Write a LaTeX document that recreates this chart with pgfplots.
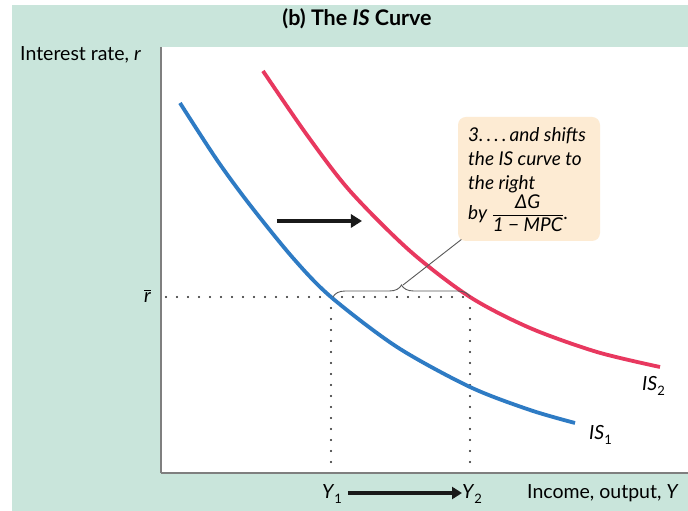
\documentclass[border=0pt]{standalone}
\usepackage{fontspec}
\setmainfont{Lato}
\usepackage{pgfplots}
\pgfplotsset{compat=1.18}
\usetikzlibrary{arrows.meta,decorations.pathreplacing}
\definecolor{mint}{HTML}{C9E5DB}
\definecolor{isblue}{HTML}{2E7BC4}
\definecolor{isred}{HTML}{E8385F}
\definecolor{peach}{HTML}{FDEBD3}
\definecolor{axgray}{HTML}{7F7F7F}
\newcommand{\lab}{\fontsize{19.5}{22}\selectfont}
\newcommand{\sub}[1]{\raisebox{-0.45ex}{\fontsize{13}{13}\selectfont #1}}
\begin{document}
\begin{tikzpicture}
% page: pixel (px,py) -> tikz (px-161, 473-py)
\useasboundingbox (-161pt,-38pt) rectangle (527pt,473pt);
\fill[white] (-161pt,-38pt) rectangle (527pt,473pt);
\fill[mint] (-149pt,-38pt) rectangle (527pt,468pt);
\begin{axis}[
  scale only axis,
  width=527pt, height=426pt,
  xmin=161, xmax=688, ymin=38, ymax=464,
  axis lines=left,
  axis line style={-, draw=axgray, line width=1.4pt},
  axis background/.style={fill=white},
  xtick=\empty, ytick=\empty,
  clip=false,
]
% dotted guides
\addplot[black!85, line width=2.3pt, line cap=round, dash pattern=on 0pt off 11pt]
  coordinates {(166,214) (470,214)};
\addplot[black!85, line width=2.3pt, line cap=round, dash pattern=on 0pt off 11pt]
  coordinates {(331,214) (331,40)};
\addplot[black!85, line width=2.3pt, line cap=round, dash pattern=on 0pt off 11pt]
  coordinates {(470,214) (470,40)};
% IS curves
\addplot[isblue, line width=3.8pt, smooth] coordinates {
  (180,408) (217,351) (250,306) (293,253) (331,214) (397,164) (470,124) (530,101) (575,88)};
\addplot[isred, line width=3.8pt, smooth] coordinates {
  (263,440) (307,376) (350,320) (410,260) (470,214) (530,183) (597,159) (660,144)};
% brace and leader
\draw[decorate, decoration={brace, amplitude=12pt}, black!65, line width=0.9pt]
  (axis cs:333,214) -- (axis cs:470,214);
\draw[black!65, line width=0.9pt] (axis cs:403,226) -- (axis cs:462,272);
% annotation box
\fill[peach, rounded corners=8pt] (axis cs:458,394) rectangle (axis cs:600,270);
\begin{scope}[every node/.style={anchor=base west, inner sep=0pt, font=\itshape\fontsize{19}{22}\selectfont}]
\node at (axis cs:468,369) {3.\,.\,.\,.\,and shifts};
\node at (axis cs:468,345) {the IS curve to};
\node at (axis cs:468,321) {the right};
\node at (axis cs:468,291) {by $\displaystyle\frac{\mbox{\itshape ΔG}}{\mbox{\itshape 1 − MPC}}$.};
\end{scope}
% shift arrows
\draw[black!90, line width=4.8pt, -{Triangle[length=11pt,width=13pt]}]
  (axis cs:277,290) -- (axis cs:362,290);
\draw[black!90, line width=4.2pt, -{Triangle[length=10pt,width=12pt]}]
  (axis cs:348,18) -- (axis cs:462,18);
% labels
\node[font=\bfseries\fontsize{21.5}{24}\selectfont] at (axis cs:357,492) {(b) The \textit{IS} Curve};
\node[anchor=base west, font=\lab, inner sep=0pt] at (axis cs:20,450) {Interest rate, \textit{r}};
\node[anchor=east, font=\lab, inner sep=0pt] at (axis cs:151,215) {$\overline{\mbox{\itshape r}}$};
\node[anchor=base, font=\lab, inner sep=0pt] at (axis cs:332,12) {\textit{Y}\sub{1}};
\node[anchor=base, font=\lab, inner sep=0pt] at (axis cs:472,12) {\textit{Y}\sub{2}};
\node[anchor=base west, font=\lab, inner sep=0pt] at (axis cs:527,12) {Income, output, \textit{Y}};
\node[anchor=base west, font=\lab, inner sep=0pt] at (axis cs:642,120) {\textit{IS}\sub{2}};
\node[anchor=base west, font=\lab, inner sep=0pt] at (axis cs:589,71) {\textit{IS}\sub{1}};
\end{axis}
\end{tikzpicture}
\end{document}
